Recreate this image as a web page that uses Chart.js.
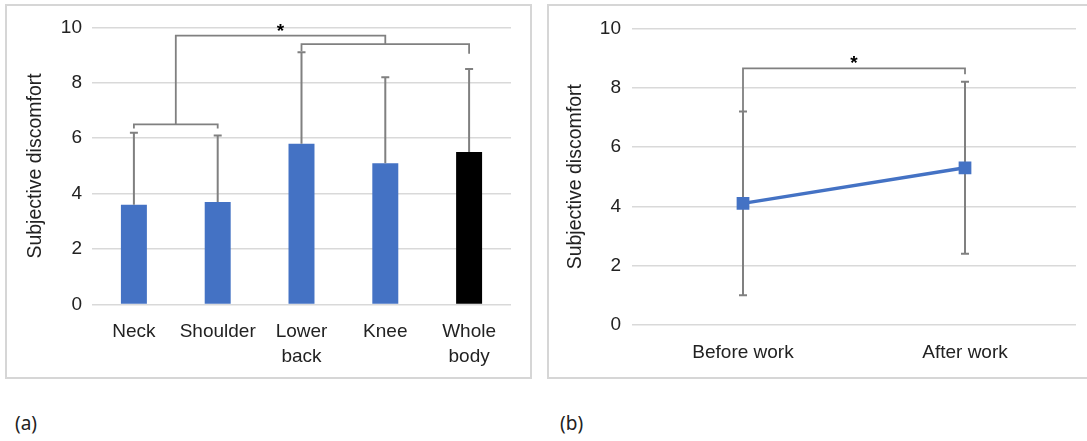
<!DOCTYPE html>
<html>
<head>
<meta charset="utf-8">
<script src="https://cdn.jsdelivr.net/npm/chart.js@4.4.1/dist/chart.umd.min.js"></script>
<style>
  body { margin: 0; width: 1087px; height: 441px; overflow: hidden; background: #fff; position: relative; }
  .frame { position: absolute; box-sizing: border-box; border: 2px solid #d6d6d6; }
  canvas { position: absolute; }
  .tag { position: absolute; font-family: 'Noto Sans', sans-serif; font-size: 19px; line-height: 19px; color: #222; }
</style>
</head>
<body>
<div class="frame" style="left:5px; top:4px; width:527px; height:375px;"></div>
<div class="frame" style="left:547px; top:4px; width:545px; height:375px;"></div>
<canvas id="regions" width="523" height="371" style="left:7px; top:6px;"></canvas>
<canvas id="phases" width="538" height="371" style="left:549px; top:6px;"></canvas>
<div class="tag" style="left:15px; top:414px;">(a)</div>
<div class="tag" style="left:560px; top:414px;">(b)</div>
<script>
const regions = ['Neck', 'Shoulder', ['Lower', 'back'], 'Knee', ['Whole', 'body']];
const regionMeans = [3.6, 3.7, 5.8, 5.1, 5.5];
const regionSD = [2.6, 2.4, 3.3, 3.1, 3.0];
// significance brackets: category span, bracket height, leg ends
const regionBrackets = [
  { from: 0, to: 1, level: 6.5, legs: [6.35, 6.35] },
  { from: 2, to: 4, level: 9.4, legs: [9.15, 9.05] },
  { from: 0.5, to: 3, level: 9.7, legs: [6.5, 9.4], star: true }
];

const phases = ['Before work', 'After work'];
const phaseMeans = [4.1, 5.3];
const phaseSD = [3.1, 2.9];
const phaseBrackets = [
  { from: 0, to: 1, level: 8.65, legs: [7.2, 8.45], star: true }
];

const yMin = 0;
const yMax = 10;
const yStep = 2;

const FONT = "'Liberation Sans', Arial, sans-serif";
const TEXT = '#222222';
const GREY = '#808080';

function errorBarPlugin (sd, bothWays, when) {
  return {
    id: 'errorBars',
    [when] (chart) {
      const { ctx, scales: { x, y } } = chart;
      const means = chart.data.datasets[0].data;
      ctx.save();
      ctx.strokeStyle = GREY;
      ctx.lineWidth = 2;
      means.forEach((m, i) => {
        const px = x.getPixelForValue(i);
        const top = y.getPixelForValue(m + sd[i]);
        const bottom = y.getPixelForValue(bothWays ? m - sd[i] : m);
        ctx.beginPath();
        ctx.moveTo(px, bottom);
        ctx.lineTo(px, top);
        ctx.moveTo(px - 4, top);
        ctx.lineTo(px + 4, top);
        if (bothWays) {
          ctx.moveTo(px - 4, bottom);
          ctx.lineTo(px + 4, bottom);
        }
        ctx.stroke();
      });
      ctx.restore();
    }
  };
}

function bracketPlugin (brackets) {
  return {
    id: 'brackets',
    afterDatasetsDraw (chart) {
      const { ctx, scales: { x, y } } = chart;
      ctx.save();
      ctx.strokeStyle = GREY;
      ctx.lineWidth = 1.8;
      brackets.forEach(b => {
        const x1 = x.getPixelForValue(b.from);
        const x2 = x.getPixelForValue(b.to);
        const yl = y.getPixelForValue(b.level);
        ctx.beginPath();
        ctx.moveTo(x1, y.getPixelForValue(b.legs[0]));
        ctx.lineTo(x1, yl);
        ctx.lineTo(x2, yl);
        ctx.lineTo(x2, y.getPixelForValue(b.legs[1]));
        ctx.stroke();
        if (b.star) {
          ctx.fillStyle = '#000';
          ctx.font = 'bold 19px ' + FONT;
          ctx.textAlign = 'center';
          ctx.textBaseline = 'alphabetic';
          ctx.fillText('*', (x1 + x2) / 2, yl + 1);
        }
      });
      ctx.restore();
    }
  };
}

function scalesFor (yWidth, xHeight, tickPad) {
  return {
    x: {
      offset: true,
      grid: { display: false, offset: true },
      border: { display: false },
      ticks: { color: TEXT, padding: 7, font: { family: FONT, size: 19, lineHeight: '25px' }, maxRotation: 0, autoSkip: false },
      afterFit: scale => { scale.height = xHeight; }
    },
    y: {
      min: yMin,
      max: yMax,
      border: { display: false },
      grid: { color: '#d9d9d9', lineWidth: 1.5, drawTicks: false },
      ticks: { stepSize: yStep, color: TEXT, padding: tickPad, font: { family: FONT, size: 19 } },
      title: { display: true, text: 'Subjective discomfort', color: TEXT, font: { family: FONT, size: 19.5 } },
      afterFit: scale => { scale.width = yWidth; }
    }
  };
}

// eslint-disable-next-line no-undef
new Chart('regions', {
  type: 'bar',
  data: {
    labels: regions,
    datasets: [{
      data: regionMeans,
      backgroundColor: ['#4472C4', '#4472C4', '#4472C4', '#4472C4', '#000000'],
      categoryPercentage: 1,
      barPercentage: 0.31
    }]
  },
  options: {
    responsive: false,
    animation: false,
    layout: { padding: { left: 13, right: 19, top: 19.5, bottom: 0 } },
    plugins: { legend: { display: false }, tooltip: { enabled: false } },
    scales: scalesFor(72, 72.5, 10)
  },
  plugins: [errorBarPlugin(regionSD, false, 'afterDatasetsDraw'), bracketPlugin(regionBrackets)]
});

// eslint-disable-next-line no-undef
new Chart('phases', {
  type: 'line',
  data: {
    labels: phases,
    datasets: [{
      data: phaseMeans,
      borderColor: '#4472C4',
      borderWidth: 3.5,
      pointStyle: 'rect',
      pointRadius: 9,
      pointBorderWidth: 0,
      pointBackgroundColor: '#4472C4'
    }]
  },
  options: {
    responsive: false,
    animation: false,
    layout: { padding: { left: 11, right: 11, top: 20.7, bottom: 0 } },
    plugins: { legend: { display: false }, tooltip: { enabled: false } },
    scales: scalesFor(72, 52, 11)
  },
  plugins: [errorBarPlugin(phaseSD, true, 'beforeDatasetsDraw'), bracketPlugin(phaseBrackets)]
});
</script>
</body>
</html>
